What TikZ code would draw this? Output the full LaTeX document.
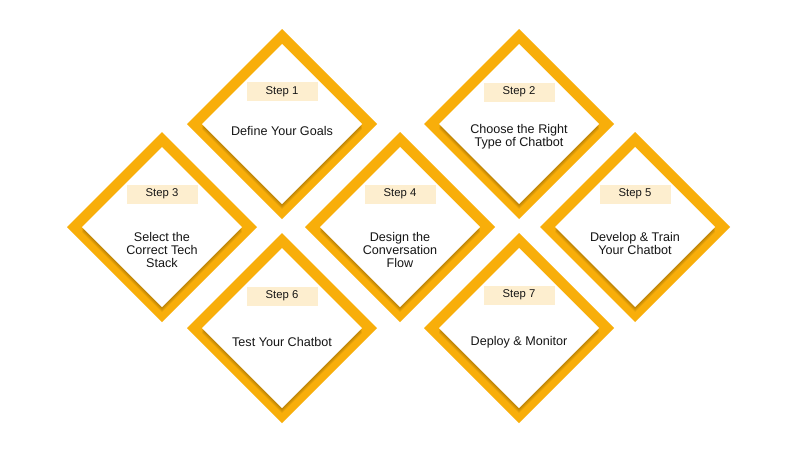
\documentclass[tikz,border=0pt]{standalone}
\usepackage{fontspec}
\setmainfont{Liberation Sans}
\definecolor{frameorange}{HTML}{F8AE0A}
\definecolor{tagfill}{HTML}{FDEECF}
\definecolor{txt}{HTML}{161616}
\tikzset{
  steptag/.style={fill=tagfill, minimum width=71pt, minimum height=19pt, inner sep=0pt,
    font=\fontsize{11.3}{13}\selectfont, text=txt},
  stepbody/.style={align=center, font=\fontsize{12.6}{12.8}\selectfont, text=txt, inner sep=0pt}
}
\newcommand{\mydiamond}[3]{%
  \fill[frameorange] (#1+95,#2) -- (#1,#2+95) -- (#1-95,#2) -- (#1,#2-95) -- cycle;
  \foreach \s in {1,2,3,4,5}{
    \fill[black,opacity=0.05] (#1+80,#2+\s) -- (#1,#2+80+\s) -- (#1-80,#2+\s) -- (#1,#2-80+\s) -- cycle;
  }
  \fill[white] (#1+80,#2) -- (#1,#2+80) -- (#1-80,#2) -- (#1,#2-80) -- cycle;
  \coordinate (#3) at (#1,#2);
}
\begin{document}
\begin{tikzpicture}[x=1pt,y=-1pt]
\useasboundingbox (0,0) rectangle (800,453);
\fill[white] (0,0) rectangle (800,453);
\mydiamond{282}{124}{d1}
\mydiamond{519}{124}{d2}
\mydiamond{162}{227}{d3}
\mydiamond{400}{227}{d4}
\mydiamond{635}{227}{d5}
\mydiamond{282}{328}{d6}
\mydiamond{519}{328}{d7}

\node[steptag] (t1) at (282,91.5) {Step 1};
\node[steptag] (t2) at (519,92) {Step 2};
\node[steptag] (t3) at (162,194) {Step 3};
\node[steptag] (t4) at (400,194) {Step 4};
\node[steptag] (t5) at (635,194) {Step 5};
\node[steptag] (t6) at (282,296) {Step 6};
\node[steptag] (t7) at (519,295) {Step 7};

\node[stepbody] (b1) at (282,131) {Define Your Goals};
\node[stepbody] (b2) at (519,137) {Choose the Right\\Type of Chatbot};
\node[stepbody] (b3) at (162,250) {Select the\\Correct Tech\\Stack};
\node[stepbody] (b4) at (400,250) {Design the\\Conversation\\Flow};
\node[stepbody] (b5) at (635,243.5) {Develop \& Train\\Your Chatbot};
\node[stepbody] (b6) at (282,342) {Test Your Chatbot};
\node[stepbody] (b7) at (519,342) {Deploy \& Monitor};
\end{tikzpicture}
\end{document}
